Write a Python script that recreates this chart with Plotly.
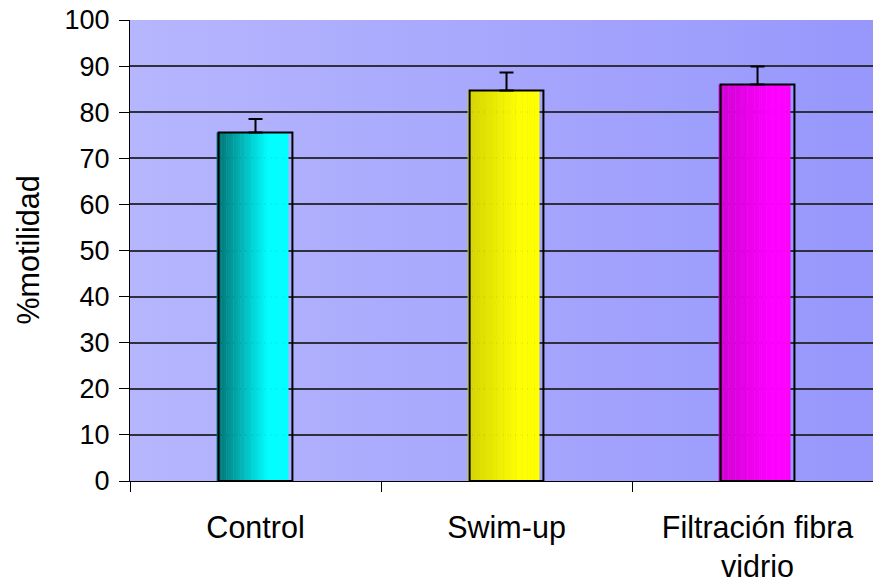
import base64
import plotly.graph_objects as go

# ---- data ----
categories = ["Control", "Swim-up", "Filtración fibra<br>vidrio"]
motilidad = [75.6, 84.7, 86.0]
error_plus = [2.9, 3.9, 3.9]
y_ticks = [0, 10, 20, 30, 40, 50, 60, 70, 80, 90, 100]
y_title = "%motilidad"

# ---- style ----
grad_left = [(0, 112, 112), (212, 212, 0), (208, 0, 208)]
grad_right = [(0, 255, 255), (255, 255, 0), (255, 0, 255)]
FONT = "Liberation Sans, Arial, sans-serif"

fig = go.Figure()

# gradient fill built from thin overlaid slices of each bar
n_slices = 30
fill_left = -0.155
fill_width = 0.285
slice_w = fill_width / n_slices
for i in range(n_slices):
    t = min(1.0, (i + 0.5) / n_slices / 0.72)
    cols = []
    for a, b in zip(grad_left, grad_right):
        c = tuple(int(round(a[k] + (b[k] - a[k]) * t)) for k in range(3))
        cols.append("rgb(%d,%d,%d)" % c)
    fig.add_trace(go.Bar(
        x=categories, y=motilidad,
        offset=fill_left + i * slice_w, width=slice_w * 1.15,
        marker=dict(color=cols, line=dict(width=0)),
        hoverinfo="skip", showlegend=False,
    ))

# outline + error bars
fig.add_trace(go.Bar(
    x=categories, y=motilidad,
    offset=-0.147, width=0.294,
    marker=dict(color="rgba(0,0,0,0)", line=dict(color="black", width=2)),
    error_y=dict(type="data", symmetric=False, array=error_plus,
                 arrayminus=[0] * len(error_plus),
                 color="black", thickness=2, width=7),
    showlegend=False,
))

svg = ('<svg xmlns="http://www.w3.org/2000/svg" width="100" height="100" preserveAspectRatio="none">'
       '<defs><linearGradient id="g" x1="0" y1="0" x2="1" y2="0">'
       '<stop offset="0" stop-color="#B6B6FE"/><stop offset="1" stop-color="#9797FC"/>'
       '</linearGradient></defs><rect width="100" height="100" fill="url(#g)"/></svg>')
src = "data:image/svg+xml;base64," + base64.b64encode(svg.encode()).decode()

fig.update_layout(
    width=873, height=582,
    margin=dict(l=130, r=0, t=20, b=101),
    paper_bgcolor="white",
    plot_bgcolor="rgba(0,0,0,0)",
    barmode="overlay",
    font=dict(family=FONT, size=27, color="black"),
    images=[dict(source=src, xref="paper", yref="paper", x=0, y=1,
                 sizex=1, sizey=1, sizing="stretch", layer="below",
                 xanchor="left", yanchor="top")],
    xaxis=dict(
        type="category", range=[-0.5, 2.46], automargin=False,
        showline=True, linecolor="black", linewidth=1,
        ticks="outside", tickson="boundaries", ticklen=10, tickcolor="black",
        showgrid=False, ticklabelstandoff=19,
        tickfont=dict(size=30.5),
    ),
    yaxis=dict(
        range=[0, 100], tickvals=y_ticks, automargin=False,
        ticklabeloverflow="allow",
        showline=True, linecolor="black", linewidth=1,
        ticks="outside", ticklen=10, tickcolor="black",
        showgrid=True, gridcolor="#30303c", gridwidth=1.5,
        zeroline=False, ticklabelstandoff=4,
        tickfont=dict(size=27),
    ),
    annotations=[dict(text=y_title, xref="paper", yref="paper", x=0, y=0.5,
                      xanchor="center", yanchor="middle", xshift=-103,
                      textangle=-90, showarrow=False,
                      font=dict(size=30.5, family=FONT, color="black"))],
)

fig.write_html("out.html", config={"displayModeBar": False},
               post_script="document.body.style.margin='0';")
